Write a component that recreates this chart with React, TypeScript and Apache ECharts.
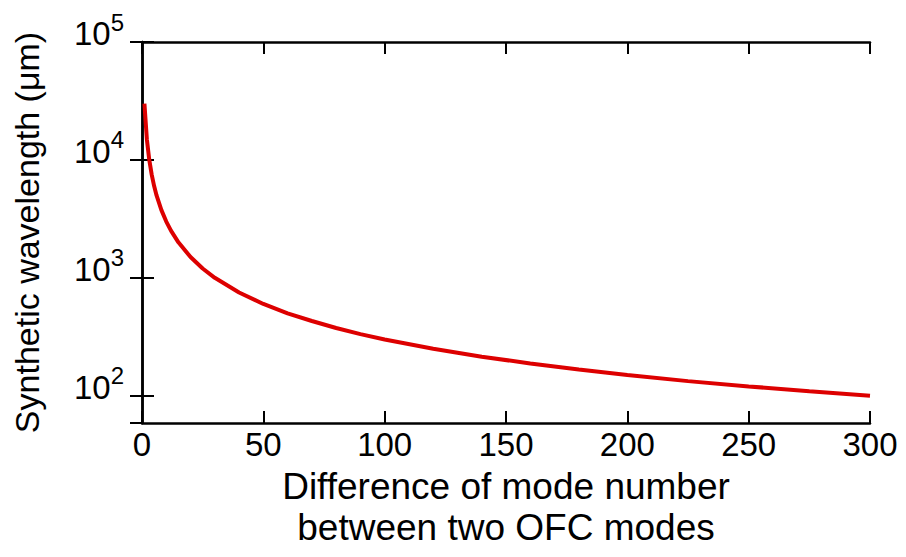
import React, { useEffect, useRef } from "react";
import * as echarts from "echarts";

// Difference of mode number (n) and read-off synthetic wavelength (µm)
const modeDiff = [1, 2, 3, 4, 5, 6, 8, 10, 12, 15, 20, 25, 30, 40, 50, 60, 70, 80, 90, 100, 120, 140, 160, 180, 200, 225, 250, 275, 300];
const wavelength = [30000, 15000, 10000, 7500, 6000, 5000, 3750, 3000, 2500, 2000, 1500, 1200, 1000, 750, 600, 500, 430, 375, 333, 300, 250, 214, 188, 167, 150, 133, 120, 109, 100];
const xTicks = [0, 50, 100, 150, 200, 250, 300];

const FONT = "Liberation Sans, Arial, Helvetica, sans-serif";

export default function App() {
  const ref = useRef<HTMLDivElement>(null);
  useEffect(() => {
    if (!ref.current) return;
    const chart = echarts.init(ref.current, null, { renderer: "svg" });
    const data = modeDiff.map((n, i) => [n, wavelength[i]]);
    const axisLine = { show: true, lineStyle: { color: "#000", width: 2.5 } };
    const axisTick = { show: true, inside: true, length: 12, lineStyle: { color: "#000", width: 2 } };
    const yFmt = (v: number) => {
      const l = Math.log10(v);
      const r = Math.round(l);
      if (Math.abs(l - r) < 1e-6) return `{b|10}{s|${r}}`;
      return "";
    };
    const yMin = 58.7;
    const yMax = 100000;
    chart.setOption({
      animation: false,
      backgroundColor: "#fff",
      grid: { left: 142, right: 36, top: 42, bottom: 134, containLabel: false },
      xAxis: [
        {
          type: "value",
          min: xTicks[0],
          max: xTicks[xTicks.length - 1],
          interval: 50,
          position: "bottom",
          axisLine,
          axisTick,
          splitLine: { show: false },
          axisLabel: { color: "#000", fontSize: 33, fontFamily: FONT, margin: 5 },
          name: "Difference of mode number\nbetween two OFC modes",
          nameLocation: "middle",
          nameGap: 42,
          nameTextStyle: { color: "#000", fontSize: 37, fontFamily: FONT, lineHeight: 41 },
        },
        {
          type: "value",
          min: xTicks[0],
          max: xTicks[xTicks.length - 1],
          interval: 50,
          position: "top",
          axisLine,
          axisTick,
          splitLine: { show: false },
          axisLabel: { show: false },
        },
      ],
      yAxis: [
        {
          type: "log",
          logBase: 10,
          min: yMin,
          max: yMax,
          position: "left",
          axisLine,
          axisTick,
          splitLine: { show: false },
          minorTick: { show: false },
          axisLabel: {
            color: "#000",
            fontFamily: FONT,
            margin: 18,
            showMinLabel: false,
            formatter: yFmt,
            padding: [0, 0, 24, 0],
            rich: {
              b: { fontSize: 33, fontFamily: FONT, color: "#000", verticalAlign: "bottom", lineHeight: 40 },
              s: { fontSize: 24, fontFamily: FONT, color: "#000", verticalAlign: "top", lineHeight: 22 },
            },
          },
          name: "Synthetic wavelength (μm)",
          nameLocation: "middle",
          nameGap: 98,
          nameTextStyle: { color: "#000", fontSize: 34, fontFamily: FONT },
        },
        {
          type: "log",
          logBase: 10,
          min: yMin,
          max: yMax,
          position: "right",
          axisLine,
          axisTick,
          splitLine: { show: false },
          axisLabel: { show: false },
        },
      ],
      series: [
        {
          type: "line",
          data,
          xAxisIndex: 0,
          yAxisIndex: 0,
          showSymbol: false,
          smooth: false,
          lineStyle: { color: "#dd0000", width: 4 },
          z: 1,
        },
      ],
    });
    return () => chart.dispose();
  }, []);
  return <div ref={ref} style={{ position: "fixed", left: 0, top: 0, width: 906, height: 557 }} />;
}
